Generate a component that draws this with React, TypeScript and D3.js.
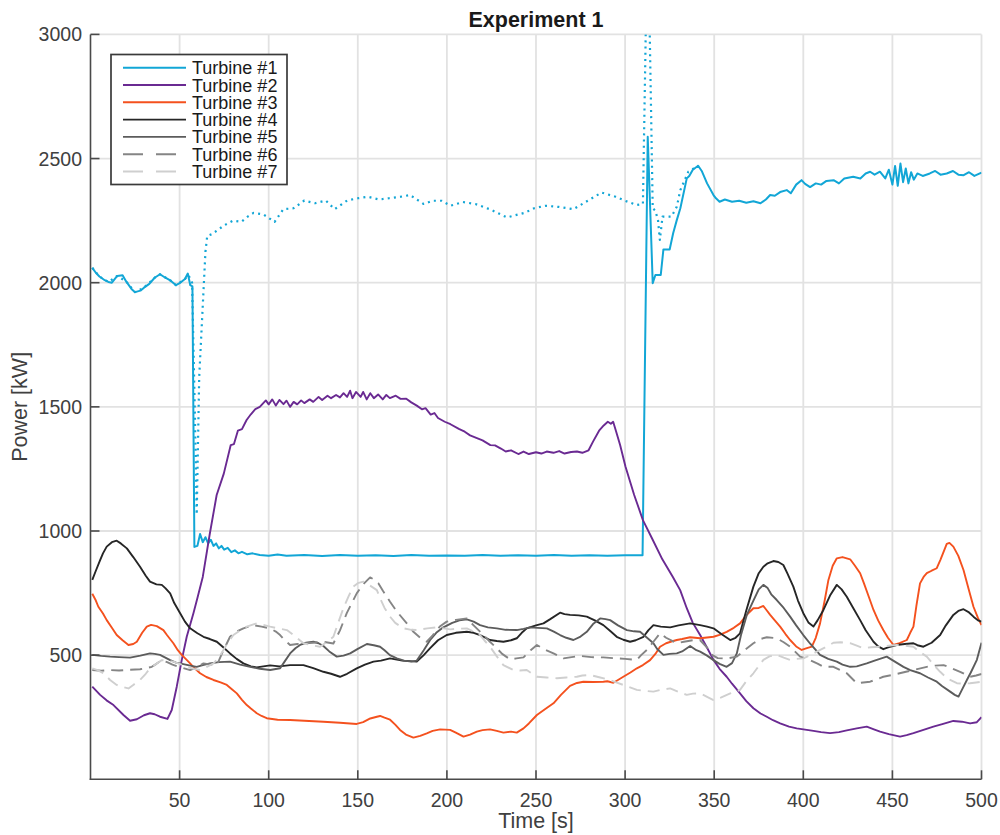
import React from "react";
import * as d3 from "d3";

// ---------- data (time [s], power [kW]) ----------
const xTicks = [50, 100, 150, 200, 250, 300, 350, 400, 450, 500];
const yTicks = [500, 1000, 1500, 2000, 2500, 3000];
const title = "Experiment 1";
const xLabel = "Time [s]";
const yLabel = "Power [kW]";
const seriesNames = ["Turbine #1", "Turbine #2", "Turbine #3", "Turbine #4", "Turbine #5", "Turbine #6", "Turbine #7"];

const turbine1: [number, number][] = [
  [1,2060],[3,2040],[5,2025],[8,2010],[10,2003],[12,2000],[15,2027],[18,2030],[20,2005],[23,1975],[25,1962],[28,1968],[30,1980],[33,1995],[36,2020],[39,2034],[42,2020],[45,2008],[48,1990],[50,1998],[53,2015],[54.6,2037],[56,1990],[57.2,1985],[58.3,936],[60,940],[61.5,988],[63,955],[64.5,975],[66,950],[67.5,965],[69,940],[70.5,950],[72,930],[73.5,940],[75,925],[77,932],[79,915],[81,922],[83,910],[85,916],[88,906],[91,910],[95,903],[100,900],[105,905],[110,900],[120,903],[130,899],[140,903],[150,900],[160,902],[170,899],[180,903],[190,900],[200,901],[210,900],[220,903],[230,900],[240,902],[250,900],[260,903],[270,900],[280,902],[290,900],[300,902],[309.8,902],[312.7,2588],[315.5,1998],[317,2031],[320,2031],[321.5,2134],[325,2134],[327,2200],[329,2252],[331,2300],[334.6,2420],[336,2430],[338,2455],[341,2471],[343,2450],[346,2400],[349.6,2353],[351,2340],[353,2326],[356,2335],[360,2326],[364,2330],[368,2322],[372,2328],[376,2320],[379,2335],[381.4,2353],[384,2350],[387,2365],[390.7,2373],[393,2360],[396,2395],[399,2413],[401,2398],[403.8,2385],[407,2400],[410,2395],[413,2410],[417,2413],[420,2400],[423,2420],[428,2427],[432,2420],[435,2440],[437.5,2447],[440,2435],[443,2447],[446,2420],[448,2455],[450,2395],[451.5,2470],[453,2390],[454.5,2480],[456,2405],[457.5,2460],[459,2400],[460.5,2445],[462,2415],[464,2440],[467,2430],[471,2440],[474,2450],[477,2435],[480.5,2440],[484,2450],[487,2435],[490,2433],[493,2445],[496,2430],[500,2443]
];

const turbine1Reference: [number, number][] = [
  [1,2060],[5,2025],[10,2003],[15,2027],[20,2005],[25,1962],[30,1980],[36,2020],[39,2034],[45,2008],[48,1990],[53,2015],[55,2030],[57,2000],[58.5,1500],[59.6,1066],[61,1620],[63,1907],[64.5,2124],[65.5,2188],[68,2195],[72,2215],[75,2231],[80,2250],[84.6,2245],[88,2265],[91.5,2281],[97,2275],[103.3,2245],[108.2,2296],[114,2300],[120,2331],[126,2320],[132,2331],[137,2296],[144,2331],[150,2340],[155.7,2346],[162,2335],[167.5,2340],[173,2345],[179.3,2353],[187,2317],[192,2330],[197,2330],[202,2310],[209,2325],[216,2317],[224,2296],[233.7,2263],[243.5,2281],[249,2300],[255.4,2310],[263,2305],[271,2296],[279,2330],[286.8,2363],[294.7,2346],[300,2330],[306.5,2313],[310,2317],[311.8,3100],[313.6,3100],[315.5,2300],[317,2290],[318.5,2250],[319.5,2172],[321,2266],[326,2266],[329,2306],[331,2373],[335.5,2447],[341,2471]
];

const turbine2: [number, number][] = [
  [1,373],[5.4,340],[9,318],[12.9,299],[18.5,259],[22.2,236],[26,242],[30,258],[33.4,266],[36,262],[39,252],[43.2,243],[45.6,279],[48.4,373],[51.2,480],[54,574],[57.8,670],[60,730],[63,815],[66.9,987],[70.8,1145],[74.8,1231],[78.7,1346],[80.5,1350],[82.7,1404],[85,1410],[87.6,1447],[90,1470],[92.5,1491],[95,1500],[98.4,1526],[100,1510],[102,1530],[104,1505],[106,1528],[108.3,1511],[110,1525],[112,1500],[114,1520],[116,1510],[118.2,1526],[120,1515],[123,1530],[125,1520],[128,1540],[130,1528],[133,1545],[135,1535],[137.8,1548],[140,1538],[142,1555],[144,1540],[145.7,1565],[147,1535],[149,1560],[151.6,1540],[153,1560],[155,1530],[157,1555],[159,1535],[161.4,1550],[164,1530],[166,1548],[168,1535],[171.3,1545],[174,1532],[177.2,1533],[180,1518],[183.1,1505],[186,1490],[188,1495],[190.9,1469],[193,1475],[195,1455],[198.8,1440],[202,1430],[206.7,1411],[210,1400],[213,1385],[216.5,1375],[220,1365],[224.4,1346],[227,1345],[230.3,1332],[233,1320],[236,1325],[240.1,1310],[243,1320],[246,1310],[250,1317],[253,1312],[256,1320],[259.8,1315],[263,1322],[266,1312],[269.7,1318],[273,1320],[276,1315],[279.5,1325],[282,1360],[285.4,1404],[288,1425],[290.3,1440],[292,1432],[293.3,1440],[295,1400],[297.2,1346],[300.2,1260],[305.1,1145],[310,1044],[315,972],[320.9,886],[326.8,815],[330.9,762],[334.6,689],[338,630],[342.1,581],[346,530],[349.6,481],[353,445],[357,413],[360,385],[364.5,346],[368,315],[372,286],[376,265],[379.5,252],[383,238],[387,225],[392,212],[396.3,205],[401,200],[405.7,195],[410,190],[415,186],[420,190],[424.4,197],[430,205],[435.6,212],[440,200],[443.1,192],[448,182],[454.3,172],[458,178],[461.8,186],[467,198],[473,212],[478,222],[484.2,235],[489,232],[493.6,225],[497.4,230],[500,250]
];

const turbine3: [number, number][] = [
  [1,747],[3,720],[4.4,695],[7,668],[9.1,641],[12,610],[14.7,581],[18,560],[21.3,541],[24,545],[26,554],[29,590],[31.6,615],[34,622],[37.2,617],[40.9,601],[43,580],[46.5,548],[49,520],[51.2,501],[55.9,467],[58,450],[61.5,427],[65,412],[69,400],[73,390],[76.5,380],[79,365],[82.1,346],[85,320],[87.7,299],[90,285],[93.3,266],[96,255],[98.9,246],[105,240],[112,239],[120,236],[130.7,232],[140,228],[149.4,223],[153,230],[157,245],[160.7,252],[162.5,255],[165,248],[168.1,240],[171,220],[173.7,199],[177,180],[181.2,168],[185,175],[188.7,185],[192,195],[196.2,201],[201.8,199],[205,188],[209.3,172],[213,180],[216.8,192],[220,198],[224.2,201],[228,195],[231.7,188],[236,192],[239.2,188],[243,205],[246,225],[250.5,259],[255,282],[259.8,306],[264,340],[269.1,376],[273,388],[276.6,393],[282,392],[287.8,393],[290,395],[293.4,389],[296,400],[299,413],[303,430],[306.6,447],[310,460],[314,480],[317,505],[319.6,534],[323,548],[326,555],[329,561],[332,565],[336.5,572],[342.1,568],[346,571],[349.6,574],[353,582],[357,594],[361,610],[364.5,628],[368,660],[372,689],[375,690],[377.6,698],[379,685],[381.4,662],[384,640],[387,615],[390,585],[392.6,561],[396,535],[399.1,521],[402,528],[404.8,534],[407,570],[409.4,628],[412,720],[414.1,803],[416.5,860],[418.8,890],[422,895],[426.3,886],[429,860],[431.9,830],[434,790],[437,730],[439.4,682],[442,640],[444.9,601],[447.5,570],[450.6,541],[454,548],[458.1,561],[460,590],[461.8,615],[463.5,700],[465.5,789],[467.5,815],[469.3,830],[472,840],[474.9,850],[477,885],[480.5,948],[482,952],[484.2,937],[487,900],[489.9,843],[493,760],[495.5,695],[498,650],[500,621]
];

const turbine4: [number, number][] = [
  [1,803],[3,840],[5.4,883],[7,910],[9.1,937],[12,955],[14.7,961],[17,950],[20.4,930],[24,895],[27.8,856],[31,820],[33.4,796],[37,785],[40,783],[42,770],[44.7,749],[47,710],[50.3,669],[53,635],[55.9,608],[60,588],[63.4,574],[67,565],[70.9,554],[74,535],[78.3,507],[82,485],[85.8,467],[90,455],[93.3,451],[97,455],[100.8,459],[106,455],[112,460],[119.5,460],[125,448],[130.7,433],[135,425],[140,413],[144,425],[149.4,447],[154,462],[158.8,474],[163,478],[168.1,487],[175,478],[183.1,474],[187,500],[190.6,528],[195,560],[199.9,581],[205,590],[211.2,594],[215,590],[218.6,581],[224.2,561],[228,557],[231.7,554],[236,560],[239.2,568],[242,590],[244.8,608],[250,620],[254.2,628],[258,645],[263.5,671],[266,665],[269.1,662],[274,660],[278.5,655],[283,640],[287.8,621],[292,595],[295.3,574],[299,562],[302.8,554],[306,560],[310.3,574],[313,600],[315.9,621],[320,615],[325.3,612],[330,620],[336.5,628],[342.1,621],[346,615],[349.6,608],[354,585],[359,561],[362,570],[364.5,588],[368,680],[372,776],[375,830],[377.6,856],[380,870],[383.2,879],[386,875],[388.8,863],[391,830],[394.4,776],[397,720],[400,669],[403,630],[405.7,615],[408,640],[411.3,682],[415,740],[418.8,783],[421.5,765],[424.4,735],[428,690],[431.9,641],[435,600],[439.4,554],[442,535],[444.9,524],[448,532],[452.4,541],[457,545],[461.8,548],[464,540],[467.4,534],[472,550],[476.8,581],[480,620],[484.2,662],[487,678],[489.9,685],[493,672],[495.5,655],[498,640],[500,635]
];

const turbine5: [number, number][] = [
  [1,501],[6,497],[11,494],[16,492],[22.2,490],[28,498],[33.4,507],[36,505],[39,501],[42,490],[44.7,480],[48,470],[52.1,464],[56,458],[59.6,453],[63,460],[67.1,467],[72,472],[78.3,474],[84,462],[89.6,453],[95,445],[100.8,440],[106.4,447],[109,475],[112,507],[115,528],[117.6,541],[121,550],[125.1,554],[128,548],[130.7,537],[134,515],[138.2,494],[142,498],[145.7,507],[150,525],[155.1,545],[159,540],[162.5,534],[165,520],[168,500],[171.9,487],[176,478],[180,474],[183.1,478],[187,520],[190.6,561],[194,590],[198,612],[203,630],[207,640],[211.2,644],[215,635],[218.6,621],[223,612],[228,608],[233,602],[239.2,601],[243,606],[246.7,612],[251,610],[256.1,608],[260,595],[263.5,581],[267,570],[271,561],[275,575],[278.5,594],[282,625],[286,648],[289,645],[291.6,641],[296,620],[301,601],[305,596],[308.4,594],[312,572],[315.9,548],[318,525],[321.5,501],[325,505],[329,507],[332,515],[336.5,537],[340,520],[342.1,514],[346,498],[349.6,480],[353,465],[357,453],[360,468],[362.7,507],[365,580],[368.3,662],[372,720],[375,765],[377.6,783],[380,770],[382,745],[385.1,722],[389,690],[392.6,655],[396,620],[400,581],[404,545],[409.4,501],[414,485],[418.8,474],[422,462],[426.3,453],[430,455],[435.6,467],[440,478],[446.8,494],[450,480],[456.2,453],[460,440],[465.5,427],[470,410],[474.9,393],[478,375],[482.4,353],[485,340],[487.1,333],[489,360],[491.8,400],[494,430],[497.4,481],[500,550]
];

const turbine6: [number, number][] = [
  [1,440],[6,437],[11,440],[16,438],[22,441],[27.8,443],[31,447],[34.4,453],[37,465],[40,480],[43,472],[46,462],[48.4,456],[52,448],[55.9,440],[60,452],[63.4,467],[67,463],[70.9,460],[74,510],[78.3,574],[82,595],[85.8,608],[89,616],[91.4,621],[96,615],[100.8,608],[104,595],[106.4,581],[109,560],[112,541],[116,545],[119.5,547],[125,550],[130.7,554],[136.3,547],[140,600],[143.8,669],[147,715],[149.4,749],[153,785],[156.9,813],[159,805],[161.6,789],[164,760],[168.1,715],[172,675],[177.5,628],[181.2,594],[185,570],[188.7,554],[192,580],[196,615],[199.9,635],[205,642],[211.2,648],[215,620],[220.5,581],[224,555],[228,528],[231,505],[235.5,483],[239,487],[243,491],[247,520],[250.5,541],[255,522],[259.8,507],[265.4,487],[270,492],[274.7,497],[281,492],[287.8,491],[295.3,487],[300,485],[306.6,481],[309,500],[312.2,521],[316,555],[319.6,588],[323,570],[329,548],[333,554],[338,560],[342,561],[346,530],[349,500],[352,488],[357,486],[362.7,494],[367,520],[372,548],[376,565],[379.5,572],[385.1,568],[389,552],[392.6,534],[398.2,494],[403.8,480],[408,466],[411.3,453],[416.9,453],[424.4,427],[430,387],[437.5,393],[444.9,413],[452.4,424],[457,432],[461.8,440],[469.3,453],[474,458],[478.7,460],[483,448],[488,433],[493.6,413],[497,418],[500,424]
];

const turbine7: [number, number][] = [
  [1,447],[4,440],[7.3,427],[11,400],[14.7,380],[18,372],[21.3,366],[24,380],[27.8,400],[31,425],[33.4,447],[37,465],[40,480],[43,478],[46.5,474],[50,465],[54,453],[58,445],[61.5,440],[65,452],[69,467],[72,490],[74.6,521],[77,550],[80.2,581],[84,600],[87.7,615],[93.3,628],[97,622],[100.8,615],[105,608],[110.2,601],[115,575],[119.5,548],[124,540],[128.8,534],[132,550],[136.3,574],[139,630],[141.9,689],[145,740],[147.5,776],[150,790],[153.1,796],[156.9,780],[160.7,762],[162.5,729],[165,690],[168.1,655],[171,630],[175.6,608],[180,602],[183.1,601],[189,608],[194.3,612],[201.8,604],[206,606],[211.2,608],[215,595],[218.6,581],[221,560],[224.2,534],[228,495],[231.7,460],[237.3,440],[241,438],[244.8,440],[250.5,413],[256,410],[261.7,407],[267,410],[272.9,413],[276,418],[280.4,420],[286,410],[291.6,400],[295,390],[299,380],[306.6,360],[311,356],[315.9,353],[320,360],[325.3,366],[330,352],[334.6,340],[338,345],[342.1,346],[346,332],[349.6,319],[354,330],[359,346],[364.5,360],[368,395],[372,427],[377.6,481],[381,495],[385.1,501],[389,490],[392.6,481],[396,485],[400,487],[404,500],[407.6,514],[412,530],[416.9,550],[421,552],[426.3,548],[430,538],[433.7,528],[438,532],[443.1,534],[448,538],[452.4,541],[457,538],[461.8,534],[465,515],[469.3,494],[473,462],[476.8,433],[481,405],[486.2,387],[490,385],[493.6,387],[497,390],[500,393]
];

// ---------- styling ----------
const colors = ["#12a6d6", "#6a2a92", "#f4511e", "#262626", "#5c5c5c", "#858585", "#cfcfcf"];
const dashes = [null, null, null, null, null, "12 7", "12 7"];
const legendDashes = [null, null, null, null, null, "20 13", "20 13"];
const FONT = "'Liberation Sans', Arial, Helvetica, sans-serif";

export default function App() {
  const W = 1000, H = 835;
  const x = d3.scaleLinear().domain([0, 500]).range([90.5, 981.5]);
  const y = d3.scaleLinear().domain([0, 3000]).range([779.3, 34.4]);
  const line = d3.line<[number, number]>().x(d => x(d[0])).y(d => y(d[1]));
  const series = [turbine1, turbine2, turbine3, turbine4, turbine5, turbine6, turbine7];
  const left = x.range()[0], right = x.range()[1];
  const top = y.range()[1], bottom = y.range()[0];

  const legX = 111, legY = 54.5, legW = 176, legH = 130, rowH = 17.3, row0 = 67.7;

  return (
    <svg width={W} height={H} style={{ position: "absolute", left: 0, top: 0, background: "#fff" }} fontFamily={FONT}>
      <defs>
        <clipPath id="plotClip">
          <rect x={left} y={top} width={right - left} height={bottom - top} />
        </clipPath>
      </defs>
      <rect x={0} y={0} width={W} height={H} fill="#fff" />
      {/* grid */}
      <g stroke="#e2e2e2" strokeWidth={1.8}>
        {xTicks.map(t => <line key={"gx" + t} x1={x(t)} x2={x(t)} y1={top} y2={bottom} />)}
        {yTicks.map(t => <line key={"gy" + t} x1={left} x2={right} y1={y(t)} y2={y(t)} />)}
      </g>
      {/* series */}
      <g clipPath="url(#plotClip)" fill="none" strokeLinejoin="round">
        <path d={line(turbine1Reference) || ""} stroke={colors[0]} strokeWidth={2.2} strokeDasharray="2 4.2" />
        {series.map((s, i) => (
          <path key={i} d={line(s) || ""} stroke={colors[i]} strokeWidth={i === 0 ? 2 : 1.9}
            strokeDasharray={dashes[i] || undefined} />
        ))}
      </g>
      {/* axes */}
      <g stroke="#4a4a4a" strokeWidth={1.6}>
        <line x1={left} x2={left} y1={top} y2={bottom + 0.8} />
        <line x1={left - 0.8} x2={right} y1={bottom} y2={bottom} />
        {xTicks.map(t => <line key={"tx" + t} x1={x(t)} x2={x(t)} y1={bottom} y2={bottom - 9} />)}
        {yTicks.map(t => <line key={"ty" + t} x1={left} x2={left + 9} y1={y(t)} y2={y(t)} />)}
      </g>
      {/* tick labels */}
      <g fill="#404040" fontSize={19.5}>
        {xTicks.map(t => <text key={"lx" + t} x={x(t)} y={806.5} textAnchor="middle">{t}</text>)}
        {yTicks.map(t => <text key={"ly" + t} x={82} y={y(t) + 7} textAnchor="end">{t}</text>)}
      </g>
      <text x={(left + right) / 2} y={828} textAnchor="middle" fontSize={21.5} fill="#404040">{xLabel}</text>
      <text transform={`translate(27, ${(top + bottom) / 2}) rotate(-90)`} textAnchor="middle" fontSize={21.5} fill="#404040">{yLabel}</text>
      <text x={(left + right) / 2} y={26.5} textAnchor="middle" fontSize={21.5} fontWeight="bold" fill="#1a1a1a">{title}</text>
      {/* legend */}
      <g>
        <rect x={legX} y={legY} width={legW} height={legH} fill="#fff" stroke="#3a3a3a" strokeWidth={1.7} />
        {seriesNames.map((n, i) => (
          <g key={n}>
            <line x1={123} x2={186} y1={row0 + i * rowH} y2={row0 + i * rowH} stroke={colors[i]} strokeWidth={1.9}
              strokeDasharray={legendDashes[i] || undefined} />
            <text x={192} y={row0 + i * rowH + 6.5} fontSize={18} fill="#1a1a1a">{n}</text>
          </g>
        ))}
      </g>
    </svg>
  );
}
